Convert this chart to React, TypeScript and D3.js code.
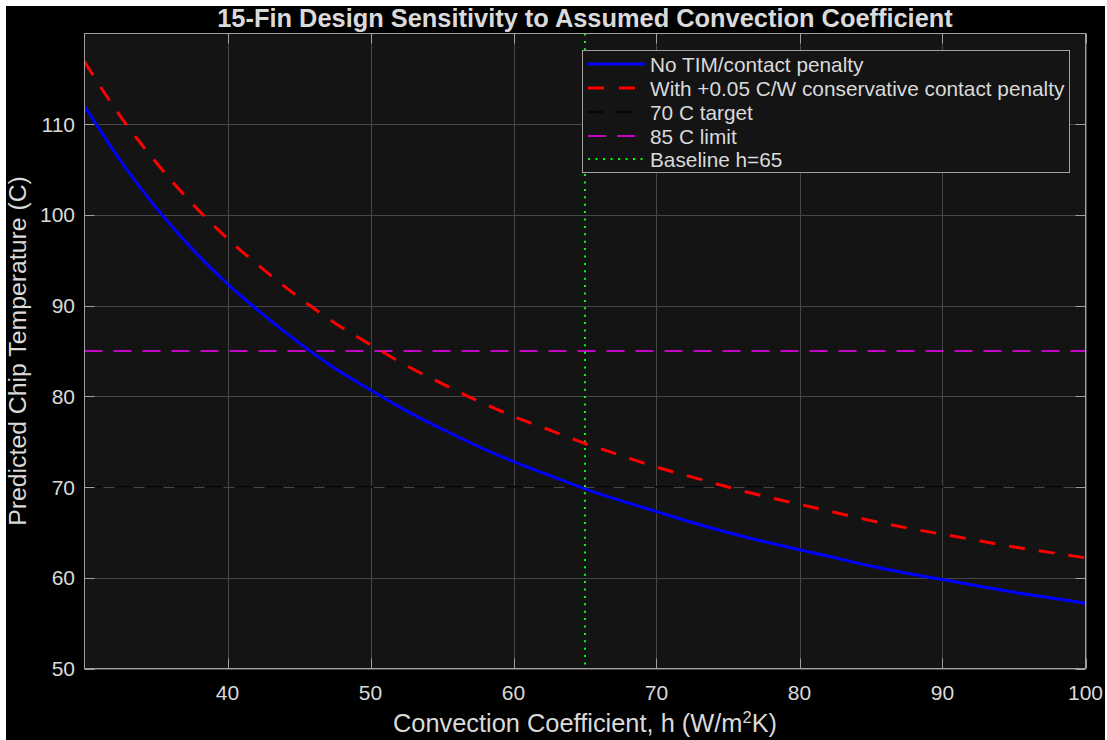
import React from "react";
import * as d3 from "d3";

const hValues = [30, 32.5, 35, 37.5, 40, 42.5, 45, 47.5, 50, 52.5, 55, 57.5, 60, 62.5, 65, 67.5, 70, 72.5, 75, 77.5, 80, 82.5, 85, 87.5, 90, 92.5, 95, 97.5, 100];
const tempNoPenalty = [112.0, 106.0, 100.8, 96.3, 92.4, 89.0, 85.9, 83.1, 80.7, 78.4, 76.4, 74.5, 72.8, 71.3, 69.8, 68.5, 67.3, 66.1, 65.0, 64.0, 63.1, 62.2, 61.3, 60.5, 59.8, 59.1, 58.4, 57.8, 57.2];
const tempWithPenalty = [116.9, 110.9, 105.8, 101.3, 97.4, 94.0, 90.9, 88.1, 85.7, 83.4, 81.4, 79.5, 77.8, 76.3, 74.8, 73.5, 72.2, 71.1, 70.0, 69.0, 68.1, 67.2, 66.3, 65.5, 64.8, 64.1, 63.4, 62.8, 62.2];
const targetTemp = 70;
const limitTemp = 85;
const baselineH = 65;
const xTicks = [40, 50, 60, 70, 80, 90, 100];
const yTicks = [50, 60, 70, 80, 90, 100, 110];
const legendLabels = [
  "No TIM/contact penalty",
  "With +0.05 C/W conservative contact penalty",
  "70 C target",
  "85 C limit",
  "Baseline h=65",
];

const W = 1107;
const H = 740;
const L = 84.5, R = 1085.5, T = 33.5, B = 668.5;
const TXT = "#dadada";
const FONT = "'Liberation Sans', Arial, Helvetica, sans-serif";

export default function App() {
  const x = d3.scaleLinear().domain([30, 100]).range([L, R]);
  const y = d3.scaleLinear().domain([50, 120]).range([B, T]);
  const line = (vals: number[]) =>
    d3.line<number>().x((_, i) => x(hValues[i])).y((d) => y(d)).curve(d3.curveMonotoneX)(vals) || "";

  const legendStyles = [
    { stroke: "#0000ff", dash: undefined, w: 3 },
    { stroke: "#ff0000", dash: "16 15", w: 3 },
    { stroke: "#000000", dash: "15 14", w: 1.5 },
    { stroke: "#ff00ff", dash: "18 11", w: 1.5 },
    { stroke: "#00ff00", dash: "2 5.5", w: 2 },
  ];
  const legY = [64, 88, 112, 136, 159];

  return (
    <svg width={W} height={H} style={{ position: "absolute", left: 0, top: 0 }} fontFamily={FONT}>
      <rect x={0} y={0} width={W} height={H} fill="#ffffff" />
      <rect x={6} y={6} width={1099} height={734} fill="#000000" />
      <rect x={L} y={T} width={R - L} height={B - T} fill="#141414" />
      <defs>
        <clipPath id="plot">
          <rect x={L} y={T} width={R - L} height={B - T} />
        </clipPath>
      </defs>
      {/* grid */}
      {xTicks.map((t) => (
        <line key={"gx" + t} x1={Math.round(x(t)) + 0.5} x2={Math.round(x(t)) + 0.5} y1={T} y2={B} stroke="#474747" strokeWidth={1} />
      ))}
      {yTicks.map((t) => (
        <line key={"gy" + t} x1={L} x2={R} y1={Math.round(y(t)) + 0.5} y2={Math.round(y(t)) + 0.5} stroke="#474747" strokeWidth={1} />
      ))}
      {/* data */}
      <g clipPath="url(#plot)">
        <line x1={L} x2={R} y1={y(targetTemp)} y2={y(targetTemp)} stroke="#000000" strokeWidth={1.5} strokeDasharray="19 11" />
        <line x1={L} x2={R} y1={y(limitTemp)} y2={y(limitTemp)} stroke="#ff00ff" strokeWidth={1.5} strokeDasharray="18 11" />
        <line x1={x(baselineH)} x2={x(baselineH)} y1={T} y2={B} stroke="#00ff00" strokeWidth={2} strokeDasharray="2 5.4" />
        <path d={line(tempWithPenalty)} fill="none" stroke="#ff0000" strokeWidth={3} strokeDasharray="16 14" />
        <path d={line(tempNoPenalty)} fill="none" stroke="#0000ff" strokeWidth={3} />
      </g>
      {/* ticks */}
      {xTicks.map((t) => (
        <g key={"tx" + t}>
          <line x1={Math.round(x(t)) + 0.5} x2={Math.round(x(t)) + 0.5} y1={B} y2={B - 10} stroke="#a0a0a0" />
          <line x1={Math.round(x(t)) + 0.5} x2={Math.round(x(t)) + 0.5} y1={T} y2={T + 10} stroke="#a0a0a0" />
          <text x={x(t)} y={700} textAnchor="middle" fill={TXT} fontSize={21}>{t}</text>
        </g>
      ))}
      {yTicks.map((t) => (
        <g key={"ty" + t}>
          <line x1={L} x2={L + 10} y1={Math.round(y(t)) + 0.5} y2={Math.round(y(t)) + 0.5} stroke="#a0a0a0" />
          <line x1={R} x2={R - 10} y1={Math.round(y(t)) + 0.5} y2={Math.round(y(t)) + 0.5} stroke="#a0a0a0" />
          <text x={75} y={y(t)} textAnchor="end" dominantBaseline="central" fill={TXT} fontSize={21}>{t}</text>
        </g>
      ))}
      <rect x={L} y={T} width={R - L} height={B - T} fill="none" stroke="#a0a0a0" strokeWidth={1} />
      {/* legend */}
      <rect x={582.5} y={50.5} width={487} height={122} fill="#141414" stroke="#a0a0a0" strokeWidth={1} />
      {legendLabels.map((lab, i) => (
        <g key={lab}>
          <line x1={588} x2={645} y1={legY[i]} y2={legY[i]} stroke={legendStyles[i].stroke} strokeWidth={legendStyles[i].w} strokeDasharray={legendStyles[i].dash} />
          <text x={650} y={legY[i]} dominantBaseline="central" fill={TXT} fontSize={20.8}>{lab}</text>
        </g>
      ))}
      {/* titles */}
      <text x={(L + R) / 2} y={27} textAnchor="middle" fill={TXT} fontSize={25.4} fontWeight="bold">
        15-Fin Design Sensitivity to Assumed Convection Coefficient
      </text>
      <text x={(L + R) / 2} y={732} textAnchor="middle" fill={TXT} fontSize={25.4}>
        Convection Coefficient, h (W/m<tspan fontSize={16.5} dy={-9}>2</tspan><tspan dy={9}>K)</tspan>
      </text>
      <text transform={`translate(26, ${(T + B) / 2}) rotate(-90)`} textAnchor="middle" fill={TXT} fontSize={24.8}>
        Predicted Chip Temperature (C)
      </text>
    </svg>
  );
}
